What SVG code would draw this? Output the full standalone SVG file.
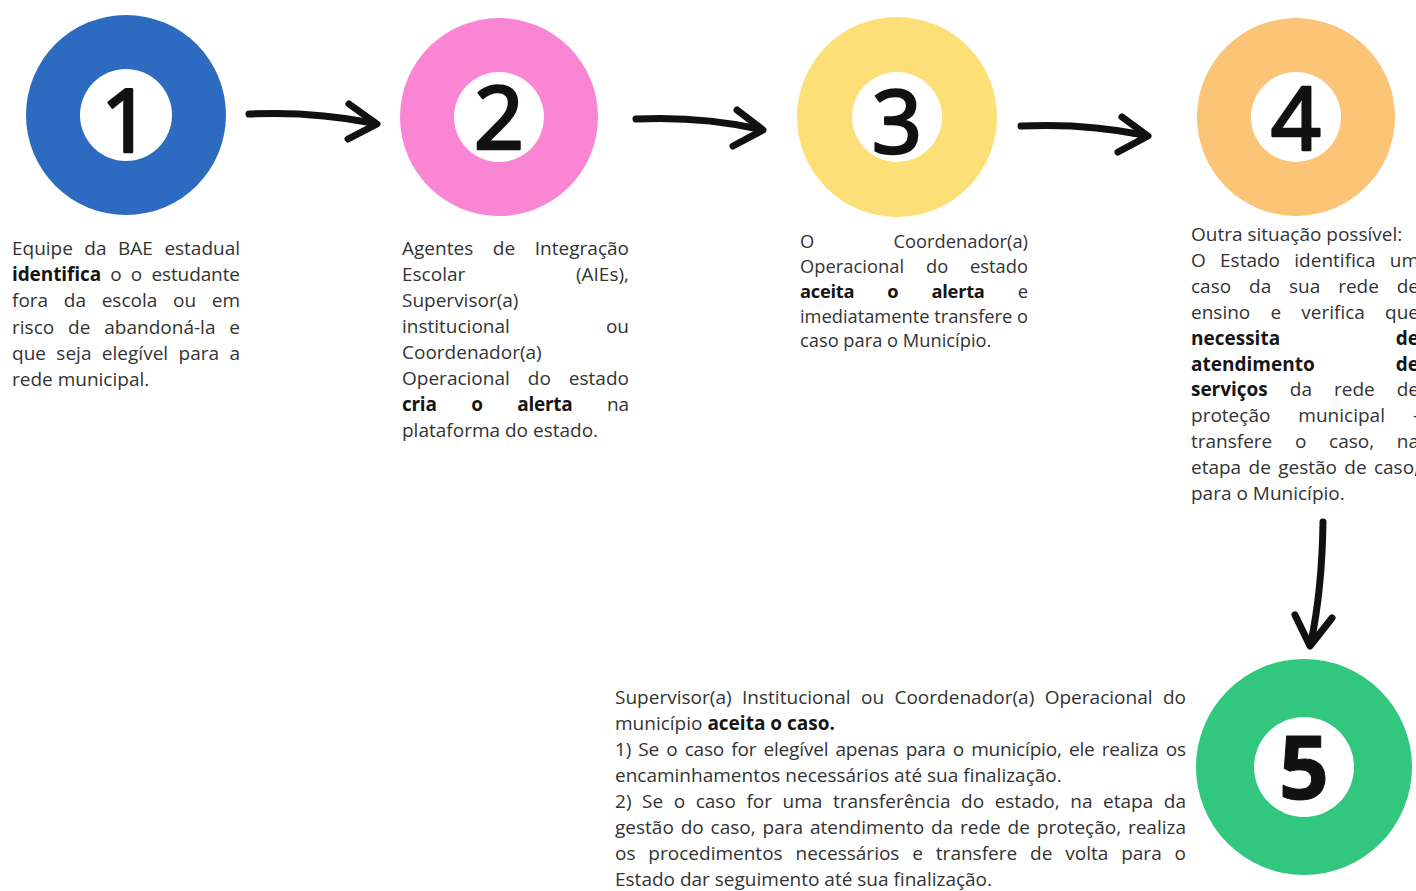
<svg xmlns="http://www.w3.org/2000/svg" width="1416" height="891" viewBox="0 0 1416 891">
<style>
.t{font-family:"Open Sans","Noto Sans","DejaVu Sans",sans-serif;font-size:19px;fill:#333}
.s{font-size:18.3px}
.b{font-weight:700;fill:#151515}
.d{font-family:"Noto Sans","DejaVu Sans",sans-serif;font-size:88px;font-weight:400;fill:#111;stroke:#111;stroke-width:2.5;stroke-linejoin:round;text-anchor:middle}
.d5{font-weight:700;stroke-width:1}
.e{text-anchor:end}
.in{fill:#fff}
.ar{fill:none;stroke:#111;stroke-width:7;stroke-linecap:round;stroke-linejoin:round}
</style>
<rect width="1416" height="891" fill="#fff"/>
<g id="connectors">
<path class="ar" d="M249,114 Q312,111 373,123"/>
<path class="ar" d="M349,104 L377,124 L348,139"/>
<path class="ar" d="M636,119 Q700,116 759,129"/>
<path class="ar" d="M737,110 L763,130 L733,146"/>
<path class="ar" d="M1021,126 Q1085,123 1144,135"/>
<path class="ar" d="M1122,117 L1148,136 L1118,152"/>
<path class="ar" d="M1323,522 Q1322,590 1311,642"/>
<path class="ar" d="M1295,615 L1310,646 L1332,618"/>
</g>
<g id="node-1">
<circle cx="126" cy="115" r="100" fill="#2D6BC1"/>
<circle class="in" cx="126" cy="115" r="46"/>
<text class="d" x="126" y="152">1</text>
<text class="t" x="12" y="255" word-spacing="6.6" textLength="228" lengthAdjust="spacing">Equipe da BAE estadual</text>
<text class="t" x="12" y="281" word-spacing="4.4" textLength="228" lengthAdjust="spacing"><tspan class="b">identifica</tspan> o o estudante</text>
<text class="t" x="12" y="307" word-spacing="10.7" textLength="228" lengthAdjust="spacing">fora da escola ou em</text>
<text class="t" x="12" y="333.5" word-spacing="8.9" textLength="228" lengthAdjust="spacing">risco de abandoná-la e</text>
<text class="t" x="12" y="359.5" word-spacing="5.4" textLength="228" lengthAdjust="spacing">que seja elegível para a</text>
<text class="t" x="12" y="386">rede municipal.</text>
</g>
<g id="node-2">
<circle cx="499" cy="117" r="99" fill="#F985D3"/>
<circle class="in" cx="499" cy="117" r="45"/>
<text class="d" x="499" y="149">2</text>
<text class="t" x="402" y="255" word-spacing="14.7" textLength="227" lengthAdjust="spacing">Agentes de Integração</text>
<text class="t" x="402" y="281">Escolar</text>
<text class="t e" x="629" y="281">(AIEs),</text>
<text class="t" x="402" y="307">Supervisor(a)</text>
<text class="t" x="402" y="333">institucional</text>
<text class="t e" x="629" y="333">ou</text>
<text class="t" x="402" y="359">Coordenador(a)</text>
<text class="t" x="402" y="385" word-spacing="13" textLength="227" lengthAdjust="spacing">Operacional do estado</text>
<text class="t" x="402" y="411" word-spacing="29.9" textLength="227" lengthAdjust="spacing"><tspan class="b">cria o alerta</tspan> na</text>
<text class="t" x="402" y="437">plataforma do estado.</text>
</g>
<g id="node-3">
<circle cx="897" cy="117" r="100" fill="#FCE077"/>
<circle class="in" cx="897" cy="117" r="45"/>
<text class="d" x="897" y="153">3</text>
<text class="t s" x="800" y="248">O</text>
<text class="t s e" x="1028" y="248">Coordenador(a)</text>
<text class="t s" x="800" y="273" word-spacing="17" textLength="228" lengthAdjust="spacing">Operacional do estado</text>
<text class="t s" x="800" y="298" word-spacing="28.6" textLength="228" lengthAdjust="spacing"><tspan class="b">aceita o alerta</tspan> e</text>
<text class="t s" x="800" y="323" textLength="228" lengthAdjust="spacing">imediatamente transfere o</text>
<text class="t s" x="800" y="347">caso para o Município.</text>
</g>
<g id="node-4">
<circle cx="1296" cy="117" r="99" fill="#FCC476"/>
<circle class="in" cx="1296" cy="117" r="45"/>
<text class="d" x="1296" y="150">4</text>
<text class="t" x="1191" y="241">Outra situação possível:</text>
<text class="t" x="1191" y="267" word-spacing="9.3" textLength="228" lengthAdjust="spacing">O Estado identifica um</text>
<text class="t" x="1191" y="293" word-spacing="12.9" textLength="228" lengthAdjust="spacing">caso da sua rede de</text>
<text class="t" x="1191" y="319" word-spacing="15.2" textLength="228" lengthAdjust="spacing">ensino e verifica que</text>
<text class="t b" x="1191" y="345">necessita</text>
<text class="t b e" x="1419" y="345">de</text>
<text class="t b" x="1191" y="371">atendimento</text>
<text class="t b e" x="1419" y="371">de</text>
<text class="t" x="1191" y="396" word-spacing="17.2" textLength="228" lengthAdjust="spacing"><tspan class="b">serviços</tspan> da rede de</text>
<text class="t" x="1191" y="422" word-spacing="23" textLength="228" lengthAdjust="spacing">proteção municipal -</text>
<text class="t" x="1191" y="448" word-spacing="17.8" textLength="228" lengthAdjust="spacing">transfere o caso, na</text>
<text class="t" x="1191" y="474" word-spacing="2.4" textLength="228" lengthAdjust="spacing">etapa de gestão de caso,</text>
<text class="t" x="1191" y="500">para o Município.</text>
</g>
<g id="node-5">
<circle cx="1304" cy="767" r="108" fill="#32C77F"/>
<circle class="in" cx="1304" cy="767" r="50"/>
<text class="d d5" x="1304" y="799">5</text>
<text class="t" x="615" y="704" word-spacing="5.4" textLength="571" lengthAdjust="spacing">Supervisor(a) Institucional ou Coordenador(a) Operacional do</text>
<text class="t" x="615" y="730">município <tspan class="b">aceita o caso.</tspan></text>
<text class="t" x="615" y="756" word-spacing="2.4" textLength="571" lengthAdjust="spacing">1) Se o caso for elegível apenas para o município, ele realiza os</text>
<text class="t" x="615" y="782">encaminhamentos necessários até sua finalização.</text>
<text class="t" x="615" y="808" word-spacing="5.6" textLength="571" lengthAdjust="spacing">2) Se o caso for uma transferência do estado, na etapa da</text>
<text class="t" x="615" y="834" word-spacing="1.9" textLength="571" lengthAdjust="spacing">gestão do caso, para atendimento da rede de proteção, realiza</text>
<text class="t" x="615" y="860" word-spacing="7.9" textLength="571" lengthAdjust="spacing">os procedimentos necessários e transfere de volta para o</text>
<text class="t" x="615" y="886">Estado dar seguimento até sua finalização.</text>
</g>
</svg>
